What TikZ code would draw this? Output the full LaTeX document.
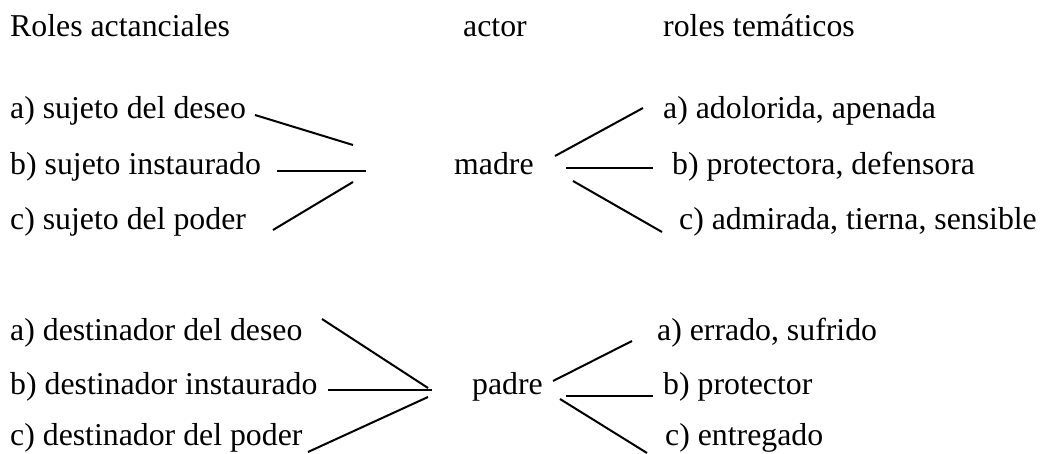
\documentclass[tikz,border=0pt]{standalone}
\usepackage{fontspec}
\setmainfont{Liberation Serif}
\begin{document}
\begin{tikzpicture}[x=1pt,y=-1pt,
  lbl/.style={anchor=base west,inner sep=0pt,font=\fontsize{31.8}{38}\selectfont},
  link/.style={line width=2pt}]
\useasboundingbox (0,0) rectangle (1041,454);

% column headings
\node[lbl] (h1) at (10,37) {Roles actanciales};
\node[lbl] (h2) at (463,37) {actor};
\node[lbl] (h3) at (663,37) {roles temáticos};

% first actor
\node[lbl] (sa) at (10,119) {a) sujeto del deseo};
\node[lbl] (sb) at (10,175) {b) sujeto instaurado};
\node[lbl] (sc) at (10,230) {c) sujeto del poder};
\node[lbl] (madre) at (454,175) {madre};
\node[lbl] (ma) at (663,119) {a) adolorida, apenada};
\node[lbl] (mb) at (672,175) {b) protectora, defensora};
\node[lbl] (mc) at (679,230) {c) admirada, tierna, sensible};

% second actor
\node[lbl] (da) at (10,340) {a) destinador del deseo};
\node[lbl] (db) at (10,394) {b) destinador instaurado};
\node[lbl] (dc) at (10,445) {c) destinador del poder};
\node[lbl] (padre) at (472,394) {padre};
\node[lbl] (pa) at (657,340) {a) errado, sufrido};
\node[lbl] (pb) at (663,394) {b) protector};
\node[lbl] (pc) at (665,445) {c) entregado};

% line ends
\coordinate (sa1) at (255,115); \coordinate (sa2) at (353,145);
\coordinate (sb1) at (277,171); \coordinate (sb2) at (366,171);
\coordinate (sc1) at (273,230); \coordinate (sc2) at (353,182);
\coordinate (ma1) at (555,156); \coordinate (ma2) at (643,108);
\coordinate (mb1) at (566,168); \coordinate (mb2) at (653,168);
\coordinate (mc1) at (573,181); \coordinate (mc2) at (662,232);
\coordinate (da1) at (322,319); \coordinate (da2) at (428,388);
\coordinate (db1) at (328,390); \coordinate (db2) at (432,390);
\coordinate (dc1) at (308,452); \coordinate (dc2) at (428,397);
\coordinate (pa1) at (553,381); \coordinate (pa2) at (632,341);
\coordinate (pb1) at (566,396); \coordinate (pb2) at (653,396);
\coordinate (pc1) at (560,399); \coordinate (pc2) at (647,453);

\draw[link] (sa1) -- (sa2);
\draw[link] (sb1) -- (sb2);
\draw[link] (sc1) -- (sc2);
\draw[link] (ma1) -- (ma2);
\draw[link] (mb1) -- (mb2);
\draw[link] (mc1) -- (mc2);
\draw[link] (da1) -- (da2);
\draw[link] (db1) -- (db2);
\draw[link] (dc1) -- (dc2);
\draw[link] (pa1) -- (pa2);
\draw[link] (pb1) -- (pb2);
\draw[link] (pc1) -- (pc2);
\end{tikzpicture}
\end{document}
